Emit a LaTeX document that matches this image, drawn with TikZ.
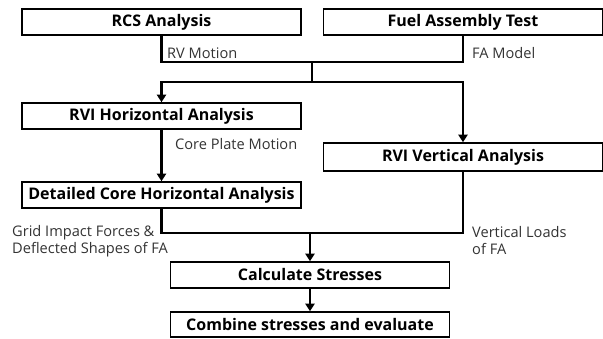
\documentclass[tikz,border=0pt]{standalone}
\usepackage{fontspec}
\setmainfont{Open Sans}
\usetikzlibrary{arrows.meta}

\begin{document}
\begin{tikzpicture}[x=1pt, y=-1pt,
    box/.style={draw, line width=1.5pt, minimum width=279pt, minimum height=26pt, inner sep=0pt, font=\fontsize{16}{18}\selectfont\bfseries},
    conn/.style={line width=2.6pt},
    arr/.style={conn, -{Triangle[length=7.5pt,width=9pt]}},
    lbl/.style={anchor=west, inner sep=0pt, text=black!80, align=left, font=\fontsize{14.6}{17}\selectfont}]
    \useasboundingbox (0,0) rectangle (603,339);

    \node[box] (rcs) at (161.5, 22) {RCS Analysis};
    \node[box] (fat) at (463, 22) {Fuel Assembly Test};
    \node[box] (rvih) at (161.5, 116) {RVI Horizontal Analysis};
    \node[box, minimum height=28pt] (rviv) at (463, 157) {RVI Vertical Analysis};
    \node[box] (dch) at (161.5, 195) {Detailed Core Horizontal Analysis};
    \node[box] (calc) at (310, 275) {Calculate Stresses};
    \node[box, minimum height=25pt] (comb) at (310, 324.5) {Combine stresses and evaluate};

    \coordinate (jtop) at (312, 62) ;
    \coordinate (jmid) at (312, 82) ;
    \coordinate (jbot) at (310, 233) ;

    \draw[conn] (rcs.south) |- (jtop) -| (fat.south);
    \draw[conn] (jtop) -- (jmid);
    \draw[arr] (jmid) -| (rvih.north);
    \draw[arr] (jmid) -| (rviv.north);
    \draw[arr] (rvih) -- (dch);
    \draw[conn] (dch.south) |- (jbot) -| (rviv.south);
    \draw[arr] (jbot) -- (calc);
    \draw[arr] (calc) -- (comb);

    \node[lbl] (rvm) at (167, 53) {RV Motion};
    \node[lbl] (fam) at (472, 53) {FA Model};
    \node[lbl] (cpm) at (175, 144) {Core Plate Motion};
    \node[lbl] (gif) at (12, 241) {Grid Impact Forces \&\\Deflected Shapes of FA};
    \node[lbl] (vlf) at (472, 241) {Vertical Loads\\of FA};
\end{tikzpicture}
\end{document}
